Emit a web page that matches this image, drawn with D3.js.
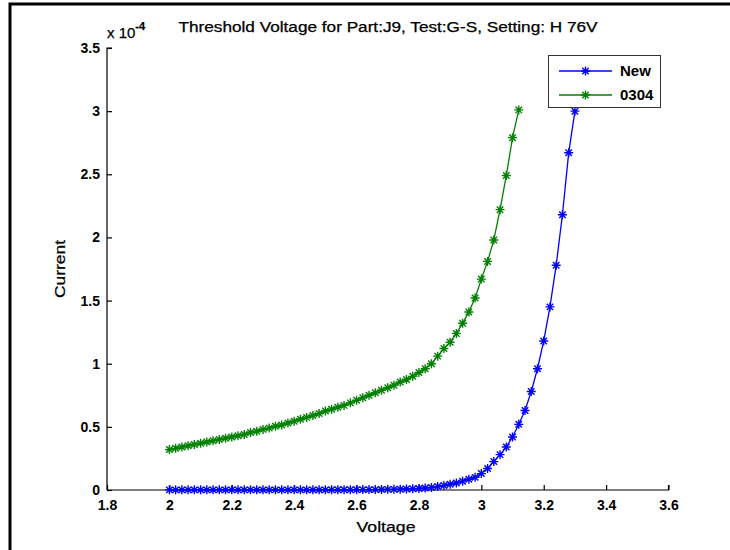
<!DOCTYPE html>
<html>
<head>
<meta charset="utf-8">
<script src="https://cdn.jsdelivr.net/npm/d3@7"></script>
<style>
  html, body { margin: 0; padding: 0; background: #fff; }
  svg { display: block; }
  text { font-family: "Liberation Sans", Arial, Helvetica, sans-serif; fill: #000; }
</style>
</head>
<body>
<svg id="chart" width="730" height="550"></svg>
<script>
// ---- data (current in units of 1e-4 A) ----
const titleText = "Threshold Voltage for Part:J9, Test:G-S, Setting: H 76V";
const xLabel = "Voltage";
const yLabel = "Current";
const seriesNames = ["New", "0304"];
const seriesColors = ["#0000ff", "#008000"];

const newVoltage = [2.00,2.02,2.04,2.06,2.08,2.10,2.12,2.14,2.16,2.18,2.20,2.22,2.24,2.26,2.28,2.30,2.32,2.34,2.36,2.38,2.40,2.42,2.44,2.46,2.48,2.50,2.52,2.54,2.56,2.58,2.60,2.62,2.64,2.66,2.68,2.70,2.72,2.74,2.76,2.78,2.80,2.82,2.84,2.86,2.88,2.90,2.92,2.94,2.96,2.98,3.00,3.02,3.04,3.06,3.08,3.10,3.12,3.14,3.16,3.18,3.20,3.22,3.24,3.26,3.28,3.30];
const newCurrent = [0.001,0.001,0.001,0.001,0.001,0.001,0.001,0.001,0.001,0.001,0.001,0.001,0.001,0.001,0.001,0.001,0.001,0.001,0.001,0.001,0.001,0.001,0.001,0.001,0.001,0.001,0.002,0.002,0.002,0.002,0.002,0.003,0.003,0.003,0.004,0.005,0.005,0.006,0.008,0.010,0.012,0.016,0.020,0.027,0.035,0.045,0.055,0.070,0.085,0.100,0.130,0.170,0.225,0.280,0.340,0.420,0.520,0.630,0.780,0.960,1.180,1.450,1.780,2.180,2.670,3.000];

const oldVoltage = [2.00,2.02,2.04,2.06,2.08,2.10,2.12,2.14,2.16,2.18,2.20,2.22,2.24,2.26,2.28,2.30,2.32,2.34,2.36,2.38,2.40,2.42,2.44,2.46,2.48,2.50,2.52,2.54,2.56,2.58,2.60,2.62,2.64,2.66,2.68,2.70,2.72,2.74,2.76,2.78,2.80,2.82,2.84,2.86,2.88,2.90,2.92,2.94,2.96,2.98,3.00,3.02,3.04,3.06,3.08,3.10,3.12];
const oldCurrent = [0.320,0.330,0.340,0.350,0.360,0.370,0.380,0.390,0.400,0.410,0.420,0.430,0.440,0.455,0.465,0.480,0.490,0.505,0.515,0.530,0.545,0.560,0.575,0.590,0.605,0.625,0.640,0.655,0.670,0.690,0.710,0.730,0.750,0.770,0.790,0.810,0.830,0.855,0.875,0.900,0.930,0.960,1.000,1.060,1.120,1.170,1.240,1.320,1.410,1.520,1.670,1.810,1.980,2.220,2.490,2.790,3.010];

const xTicks = [1.8, 2, 2.2, 2.4, 2.6, 2.8, 3, 3.2, 3.4, 3.6];
const yTicks = [0, 0.5, 1, 1.5, 2, 2.5, 3, 3.5];

// ---- layout ----
const svg = d3.select("#chart");
const x = d3.scaleLinear().domain([1.8, 3.6]).range([107, 668.5]);
const y = d3.scaleLinear().domain([0, 3.5]).range([490, 48]);

// figure frame
svg.append("rect").attr("x", 10).attr("y", 4).attr("width", 740).attr("height", 570)
  .attr("fill", "none").attr("stroke", "#000").attr("stroke-width", 3);

// axes
const xAxis = d3.axisBottom(x).tickValues(xTicks).tickSize(-5).tickPadding(10)
  .tickFormat(d => d3.format("")(+d.toFixed(1)));
const yAxis = d3.axisLeft(y).tickValues(yTicks).tickSize(-5).tickPadding(7)
  .tickFormat(d => d3.format("")(+d.toFixed(1)));

const gx = svg.append("g").attr("transform", `translate(0,${y(0)})`).call(xAxis);
const gy = svg.append("g").attr("transform", `translate(${x(1.8)},0)`).call(yAxis);
[gx, gy].forEach(g => {
  g.select(".domain").attr("stroke", "#000").attr("stroke-width", 1.2);
  g.selectAll(".tick line").attr("stroke", "#000").attr("stroke-width", 1.2);
  g.selectAll(".tick text").attr("font-family", "Liberation Sans, Arial, sans-serif")
    .attr("font-size", 14).attr("font-weight", "bold").attr("fill", "#000");
});
gx.select(".domain").attr("d", `M${x(1.8)},0H${x(3.6)}V-5`);
gy.select(".domain").attr("d", `M5,${y(3.5)}H0V${y(0)}`);

// exponent label
const expo = svg.append("text").attr("x", 107).attr("y", 38)
  .style("font-size", "15px").attr("stroke", "#000").attr("stroke-width", 0.25);
expo.append("tspan").text("x 10");
expo.append("tspan").attr("dy", -8).style("font-size", "11px").attr("font-weight", "bold").text("-4");

// title & labels (stretched to the reference's wide rendering)
svg.append("text").attr("x", 388).attr("y", 32).attr("text-anchor", "middle")
  .attr("font-size", 14).attr("textLength", 419).attr("lengthAdjust", "spacingAndGlyphs")
  .attr("stroke", "#000").attr("stroke-width", 0.25).text(titleText);
svg.append("text").attr("x", 386).attr("y", 532).attr("text-anchor", "middle")
  .attr("font-size", 15).attr("textLength", 59).attr("lengthAdjust", "spacingAndGlyphs")
  .attr("stroke", "#000").attr("stroke-width", 0.25).text(xLabel);
svg.append("text").attr("transform", "translate(65,269) rotate(-90)").attr("text-anchor", "middle")
  .attr("font-size", 15).attr("textLength", 58).attr("lengthAdjust", "spacingAndGlyphs")
  .attr("stroke", "#000").attr("stroke-width", 0.25).text(yLabel);

// marker: MATLAB-style asterisk (plus + cross)
function starPath(r) {
  const d = r * 0.72;
  return `M${-r},0H${r}M0,${-r}V${r}M${-d},${-d}L${d},${d}M${-d},${d}L${d},${-d}`;
}

const series = [
  { name: seriesNames[0], color: seriesColors[0], xs: newVoltage, ys: newCurrent },
  { name: seriesNames[1], color: seriesColors[1], xs: oldVoltage, ys: oldCurrent }
];

const line = d3.line().x(d => x(d[0])).y(d => y(d[1]));
series.forEach(s => {
  const pts = s.xs.map((v, i) => [v, s.ys[i]]);
  svg.append("path").datum(pts).attr("d", line).attr("fill", "none")
    .attr("stroke", s.color).attr("stroke-width", 1.3);
  svg.append("g").selectAll("path").data(pts).join("path")
    .attr("transform", d => `translate(${x(d[0])},${y(d[1])})`)
    .attr("d", starPath(4.5)).attr("fill", "none")
    .attr("stroke", s.color).attr("stroke-width", 1.4);
});

// legend
const lg = svg.append("g");
lg.append("rect").attr("x", 548.5).attr("y", 55.5).attr("width", 112).attr("height", 52)
  .attr("fill", "#fff").attr("stroke", "#333").attr("stroke-width", 1);
series.forEach((s, i) => {
  const cy = 71 + i * 24;
  lg.append("line").attr("x1", 559).attr("x2", 612).attr("y1", cy).attr("y2", cy)
    .attr("stroke", s.color).attr("stroke-width", 1.3);
  lg.append("path").attr("transform", `translate(585.5,${cy})`).attr("d", starPath(4.5))
    .attr("fill", "none").attr("stroke", s.color).attr("stroke-width", 1.4);
  lg.append("text").attr("x", 620).attr("y", cy + 5).attr("font-size", 15)
    .attr("font-weight", "bold").text(s.name);
});
</script>
</body>
</html>
